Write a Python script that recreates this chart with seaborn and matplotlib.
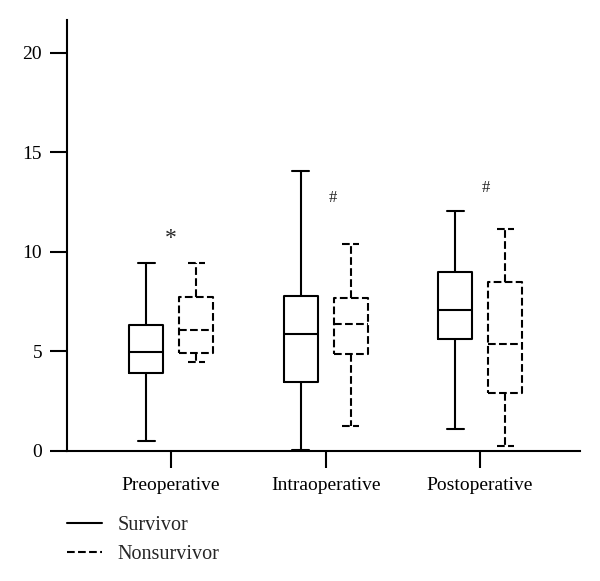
import matplotlib
matplotlib.use("Agg")
import matplotlib.pyplot as plt
from matplotlib.lines import Line2D
import seaborn as sns
import pandas as pd
import numpy as np

# five-number summaries (min, q1, median, q3, max)
phases = ["Preoperative", "Intraoperative", "Postoperative"]
groups = ["Survivor", "Nonsurvivor"]

survivor = [
    [0.52, 3.93, 4.97, 6.33, 9.46],
    [0.07, 3.47, 5.89, 7.79, 14.07],
    [1.09, 5.64, 7.07, 9.01, 12.06],
]
nonsurvivor = [
    [4.49, 4.94, 6.08, 7.75, 9.46],
    [1.27, 4.86, 6.40, 7.67, 10.42],
    [0.27, 2.93, 5.38, 8.49, 11.16],
]

marks = ["*", "#", "#"]
mark_x = [0.0, 1.05, 2.04]
mark_y = [10.65, 12.7, 13.2]

rows = []
for g, summ in zip(groups, [survivor, nonsurvivor]):
    for phase, vals in zip(phases, summ):
        for v in vals:
            rows.append({"phase": phase, "group": g, "value": v})
df = pd.DataFrame(rows)

sns.set_style("ticks")
plt.rcParams["font.family"] = ["Liberation Serif", "DejaVu Serif"]

fig = plt.figure(figsize=(6, 5.81), dpi=100)
ax = fig.add_axes([0.1117, 0.2238, 0.855, 0.7418])

lw = 1.5
sns.boxplot(
    data=df, x="phase", y="value", hue="group", hue_order=groups,
    order=phases, whis=(0, 100), fill=False, width=0.647, gap=0.32,
    linecolor="black", linewidth=lw, legend=False, ax=ax,
    showfliers=False,
)

# survivor boxes sit left of each category tick, nonsurvivor right
for ln in ax.lines:
    ln.set_color("black")
    xd = np.asarray(ln.get_xdata(), dtype=float)
    if xd.size == 0:
        continue
    off = xd.mean() - np.round(xd.mean())
    ln.set_linestyle("-" if off < 0 else "--")

for t, x, y in zip(marks, mark_x, mark_y):
    ax.text(x, y, t, ha="center", va="center",
            fontsize=17 if t == "*" else 12)

ax.set_xlim(-0.673, 2.647)
ax.set_ylim(0, 21.65)
ax.set_yticks([0, 5, 10, 15, 20])
ax.set_xlabel("")
ax.set_ylabel("")
ax.tick_params(axis="both", length=12, width=lw, labelsize=14,
               direction="out", color="black", labelcolor="black")
ax.tick_params(axis="y", pad=6)
ax.tick_params(axis="x", pad=7)
sns.despine(ax=ax)
for s in ["left", "bottom"]:
    ax.spines[s].set_linewidth(lw)
    ax.spines[s].set_color("black")

handles = [Line2D([], [], color="black", lw=lw, ls="-"),
           Line2D([], [], color="black", lw=lw, ls="--")]
fig.legend(handles, groups, loc="upper left",
           bbox_to_anchor=(0.112, 0.112), frameon=False,
           fontsize=14.5, handlelength=1.75, handletextpad=0.75,
           labelspacing=0.5, borderaxespad=0, borderpad=0)

fig.savefig("out.png", dpi=100)
